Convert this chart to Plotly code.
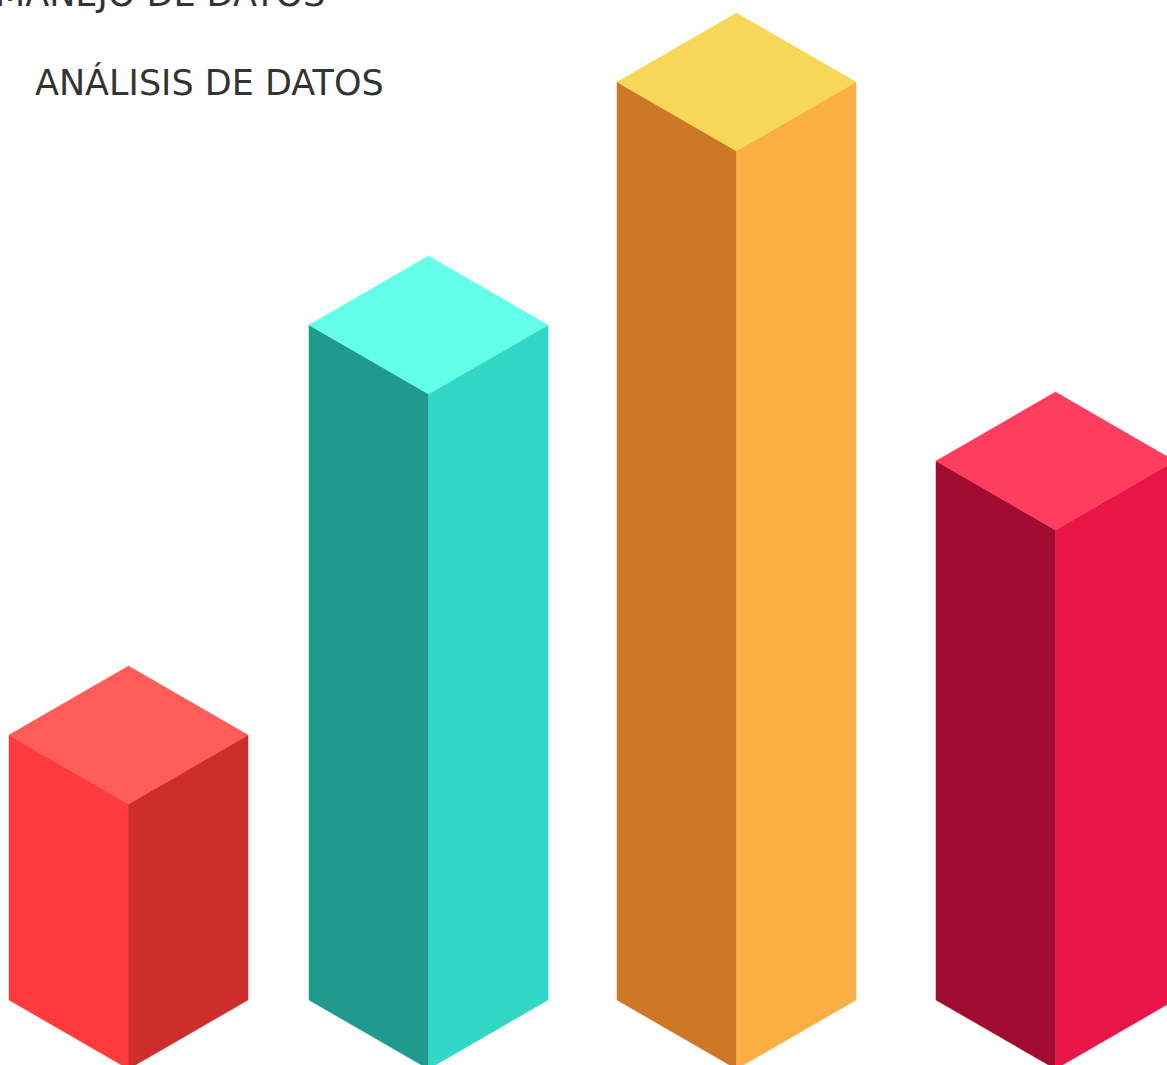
import plotly.graph_objects as go

# Data
categories = ["Barra 1", "Barra 2", "Barra 3", "Barra 4"]
values = [265, 675, 918, 539]
centers = [128.5, 428.5, 736.5, 1055.5]
top_colors = ["#FF5C5A", "#63FFE8", "#F6D757", "#FF3D5F"]
left_colors = ["#FF3B3B", "#1F9A8C", "#CD7826", "#A20B30"]
right_colors = ["#CE2D2E", "#32D8C6", "#FBAF43", "#EA1547"]
labels = ["MANEJO DE DATOS", "ANÁLISIS DE DATOS"]

HW = 119.5   # half width of the isometric bar
DY = 69      # isometric vertical offset

fig = go.Figure()

for cat, v, cx, tc, lc, rc in zip(categories, values, centers, top_colors, left_colors, right_colors):
    # left face
    fig.add_trace(go.Scatter(
        x=[cx - HW, cx, cx, cx - HW, cx - HW],
        y=[v, v - DY, -DY, 0, v],
        fill="toself", fillcolor=lc, line=dict(width=0.5, color=lc),
        mode="lines", hoverinfo="skip", name=cat, showlegend=False))
    # right face
    fig.add_trace(go.Scatter(
        x=[cx, cx + HW, cx + HW, cx, cx],
        y=[v - DY, v, 0, -DY, v - DY],
        fill="toself", fillcolor=rc, line=dict(width=0.5, color=rc),
        mode="lines", hoverinfo="skip", name=cat, showlegend=False))
    # top face
    fig.add_trace(go.Scatter(
        x=[cx - HW, cx, cx + HW, cx, cx - HW],
        y=[v, v + DY, v, v - DY, v],
        fill="toself", fillcolor=tc, line=dict(width=0.5, color=tc),
        mode="lines", hoverinfo="skip", name=cat, showlegend=False))

# text positions in pixel-derived paper coordinates
fig.add_annotation(x=327 / 1167, y=1 + 6 / 1065, xref="paper", yref="paper", text=labels[0],
                   showarrow=False, xanchor="right", yanchor="middle",
                   font=dict(family="DejaVu Sans", size=35, color="#333333"))
fig.add_annotation(x=386 / 1167, y=1 - 83 / 1065, xref="paper", yref="paper", text=labels[1],
                   showarrow=False, xanchor="right", yanchor="middle",
                   font=dict(family="DejaVu Sans", size=35, color="#333333"))

fig.update_xaxes(range=[0, 1167], visible=False, fixedrange=True)
fig.update_yaxes(range=[-65, 1000], visible=False, fixedrange=True)
fig.update_layout(width=1167, height=1065, margin=dict(l=0, r=0, t=0, b=0),
                  paper_bgcolor="white", plot_bgcolor="white", showlegend=False)

fig.write_html("out.html")
